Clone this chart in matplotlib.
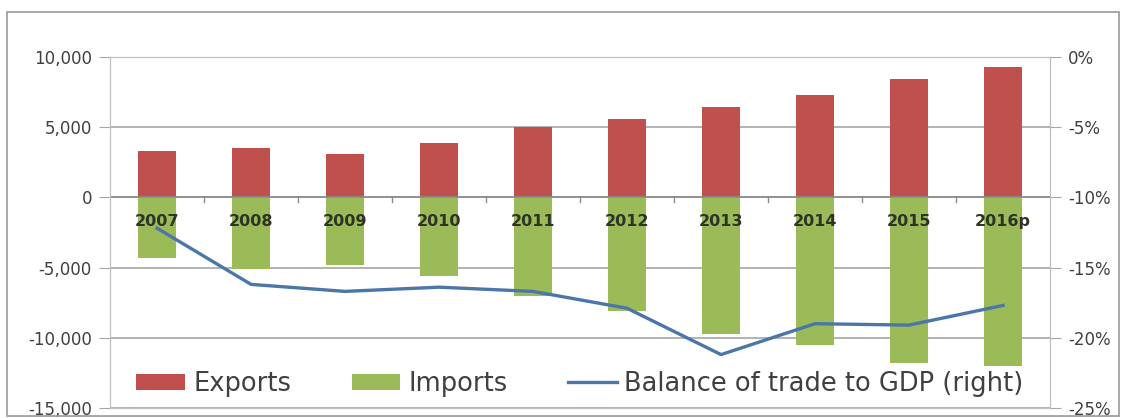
import numpy as np
import matplotlib.pyplot as plt
from matplotlib.patches import Rectangle
from matplotlib.ticker import FuncFormatter

years = ['2007', '2008', '2009', '2010', '2011', '2012', '2013', '2014', '2015', '2016p']
exports = [3300, 3500, 3100, 3900, 5000, 5600, 6450, 7300, 8400, 9250]
imports = [-4300, -5100, -4800, -5600, -7050, -8100, -9700, -10550, -11800, -13000]
balance_gdp = [-12.2, -16.2, -16.7, -16.4, -16.7, -17.9, -21.2, -19.0, -19.1, -17.7]

plt.rcParams['font.family'] = ['DejaVu Sans']

fig = plt.figure(figsize=(11.23, 4.18), dpi=100)
fig.patches.append(Rectangle((0.006, 0.005), 0.99, 0.966, transform=fig.transFigure,
                             fill=False, edgecolor='#9a9a9a', linewidth=1.2))
ax = fig.add_axes([0.098, 0.024, 0.837, 0.84])
x = np.arange(len(years))

ax.bar(x, exports, width=0.4, color='#c0504d', label='Exports', zorder=3)
ax.bar(x, imports, width=0.4, color='#9bbb59', label='Imports', zorder=3)

ax.set_xlim(-0.5, len(years) - 0.5)
ax.set_ylim(-15000, 10000)
ax.set_yticks(np.arange(-15000, 10001, 5000))
ax.yaxis.set_major_formatter(FuncFormatter(lambda v, p: f'{int(v):,}'))
ax.grid(axis='y', color='#a6a6a6', linewidth=1.2, zorder=0)
ax.tick_params(axis='y', length=8, color='#a6a6a6', labelsize=12, pad=5, labelcolor='#404040')
ax.set_xticks([])
for s in ax.spines.values():
    s.set_color('#bfbfbf')

# category labels sit just under the zero line
ax.axhline(0, color='#8c8c8c', linewidth=1.2, zorder=4)
for xi, yr in zip(x, years):
    ax.text(xi, -1720, yr, ha='center', va='center', fontsize=11.5,
            fontweight='bold', color='#2e3324', zorder=5)
for b in x[:-1] + 0.5:
    ax.plot([b, b], [0, -350], color='#8c8c8c', linewidth=1, zorder=4)

ax2 = ax.twinx()
ax2.plot(x, balance_gdp, color='#4a76a8', linewidth=2.4, label='Balance of trade to GDP (right)')
ax2.set_ylim(-25, 0)
ax2.set_yticks(np.arange(-25, 1, 5))
ax2.yaxis.set_major_formatter(FuncFormatter(lambda v, p: f'{int(v)}%'))
ax2.tick_params(axis='y', length=8, color='#a6a6a6', labelsize=12, pad=5, labelcolor='#404040')
for s in ax2.spines.values():
    s.set_color('#bfbfbf')

# legend stretched across the bottom of the plot area
h1, l1 = ax.get_legend_handles_labels()
h2, l2 = ax2.get_legend_handles_labels()
leg = ax2.legend(h1 + h2, l1 + l2, loc='lower left', ncol=3, fontsize=18.5, mode='expand',
                 frameon=True, facecolor='white', edgecolor='none', framealpha=1,
                 fancybox=False, handlelength=1.9, handleheight=0.6, handletextpad=0.3,
                 bbox_to_anchor=(0.009, -0.02, 0.982, 0.1), borderpad=0.2)
for t in leg.get_texts():
    t.set_color('#404040')

fig.savefig('out.png', dpi=100)
